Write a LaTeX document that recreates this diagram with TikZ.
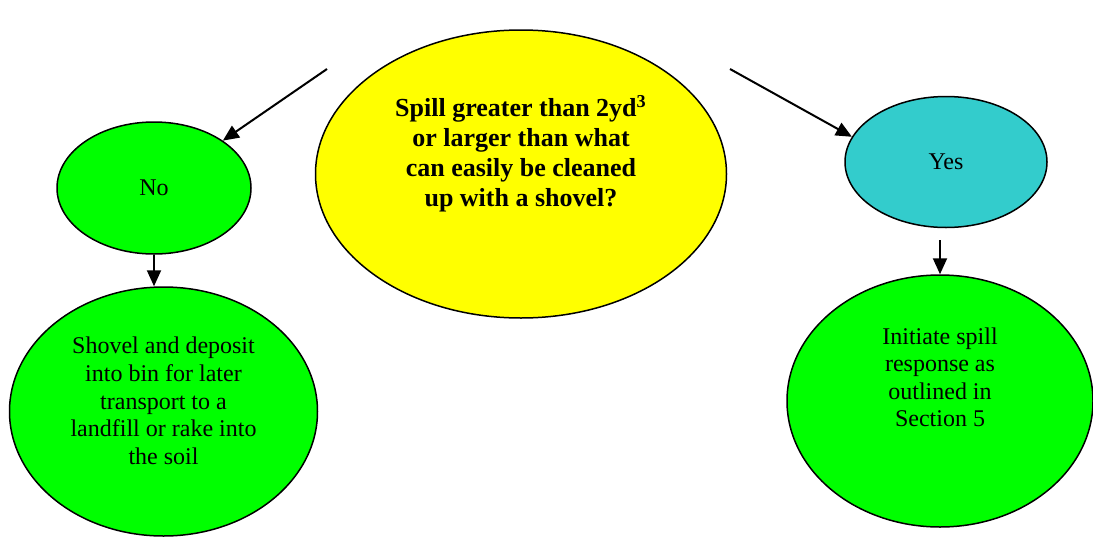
\documentclass[tikz,border=0pt]{standalone}
\usepackage{fontspec}
\setmainfont{Liberation Serif}
\usetikzlibrary{arrows.meta,shapes.geometric}
\definecolor{Question}{HTML}{FFFF00}
\definecolor{Answer}{HTML}{00FF00}
\definecolor{Reply}{HTML}{33CCCC}
\newcommand{\lifted}[2]{\raisebox{#1}[0pt][0pt]{\begin{tabular}{@{}c@{}}#2\end{tabular}}}

\begin{document}
\begin{tikzpicture}[x=0.5pt,y=-0.5pt,
      bubble/.style={draw,ellipse,line width=0.75pt,inner sep=0pt,
        font=\fontsize{12}{13.8}\selectfont},
      arrow/.style={-{Triangle[length=8pt,width=7pt]},line width=1pt}
    ]
      \useasboundingbox (0,0) rectangle (1093,536);
      \node[bubble,fill=Question,minimum width=205.5pt,minimum height=144pt,
        font=\fontsize{13}{15}\selectfont\bfseries] (spill) at (521,174)
        {\lifted{6.5pt}{Spill greater than 2yd\textsuperscript{3}\\or larger than what\\can easily be cleaned\\up with a shovel?}};
      \node[bubble,fill=Answer,minimum width=97pt,minimum height=66pt] (no) at (154,188) {No};
      \node[bubble,fill=Reply,minimum width=101pt,minimum height=65.5pt] (yes) at (946,162) {Yes};
      \node[bubble,fill=Answer,minimum width=154pt,minimum height=124.5pt] (shovel) at (163.5,411.5)
        {\lifted{1pt}{Shovel and deposit\\into bin for later\\transport to a\\landfill or rake into\\the soil}};
      \node[bubble,fill=Answer,minimum width=153pt,minimum height=126pt] (response) at (940,401)
        {\lifted{7.5pt}{Initiate spill\\response as\\outlined in\\Section 5}};
      \coordinate (leftstart) at (327,69);
      \coordinate (rightstart) at (730,69);
      \draw[arrow] (leftstart) -- (no);
      \draw[arrow] (rightstart) -- (yes.165);
      \draw[arrow] (no.south) -- (no.south |- shovel.north);
      \draw[arrow,shorten <=6pt] (response.north |- yes.south) -- (response.north);
    \end{tikzpicture}
\end{document}
